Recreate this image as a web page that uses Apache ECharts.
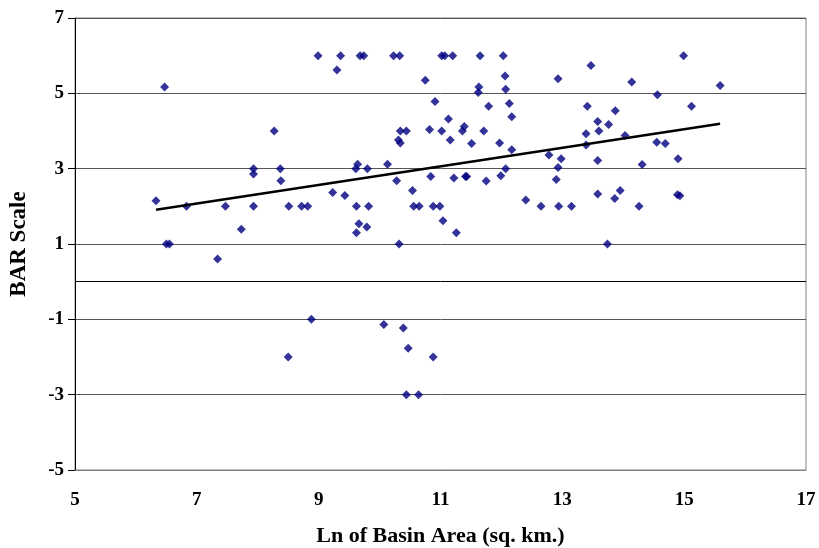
<!DOCTYPE html>
<html>
<head>
<meta charset="utf-8">
<script src="https://cdn.jsdelivr.net/npm/echarts@6/dist/echarts.min.js"></script>
<style>
  html, body { margin: 0; padding: 0; background: #fff; }
  #chart { width: 819px; height: 548px; }
</style>
</head>
<body>
<div id="chart"></div>
<script>
// Ln of basin area (sq. km.)
const lnBasinArea = [
  6.33, 6.47, 6.50, 6.55, 6.83, 7.34, 7.47, 7.73, 7.93, 7.93, 7.93, 8.27, 8.37, 8.38, 8.51, 8.50, 8.72, 8.82, 8.88,
  8.99, 9.36, 9.68, 9.74, 10.23, 10.33, 11.02, 11.07, 11.20, 11.65, 12.03, 14.99,
  9.30, 10.75, 11.63, 11.62, 12.06, 12.07, 12.93, 10.91, 11.79, 12.13, 12.17, 11.13,
  10.34, 10.44, 10.31, 10.34, 10.82, 11.02, 11.16, 11.39, 11.36, 11.51, 11.71, 11.97, 12.17,
  12.78, 12.93, 12.90, 9.61, 9.64, 9.80, 10.13, 10.28, 10.84, 11.22, 11.41, 11.43, 11.75, 11.99, 12.07,
  9.23, 9.43, 10.54, 12.40, 9.62, 9.82, 9.66, 9.62, 9.79, 10.56, 10.65, 10.88, 10.99, 11.04, 11.26, 10.32,
  12.65, 12.94, 10.07, 10.39, 10.47, 10.88, 10.44, 10.64,
  13.15, 13.58, 13.86, 13.95, 14.26, 14.89, 14.93, 13.74,
  13.47, 14.14, 15.59, 14.56, 15.12, 13.41, 13.87, 13.58, 13.76, 13.60, 13.39, 14.03, 13.39, 14.55, 14.69,
  12.98, 13.58, 14.31, 14.90
];
// BAR scale
const barScale = [
  2.15, 5.17, 1.00, 1.00, 2.00, 0.60, 2.00, 1.39, 3.00, 2.86, 2.00, 4.00, 3.00, 2.68, 2.00, -2.00, 2.00, 2.00, -1.00,
  6, 6, 6, 6, 6, 6, 6, 6, 6, 6, 6, 6,
  5.62, 5.35, 5.17, 5.02, 5.46, 5.11, 5.39, 4.78, 4.66, 4.73, 4.38, 4.32,
  4.00, 4.00, 3.76, 3.68, 4.04, 4.00, 3.76, 4.12, 4.00, 3.67, 4.00, 3.68, 3.50,
  3.36, 3.03, 2.71, 3.00, 3.12, 3.00, 3.12, 2.68, 2.79, 2.75, 2.79, 2.79, 2.67, 2.81, 3.00,
  2.37, 2.29, 2.42, 2.17, 2.00, 2.00, 1.54, 1.30, 1.45, 2.00, 2.00, 2.00, 2.00, 1.62, 1.30, 1.00,
  2.00, 2.00, -1.14, -1.23, -1.77, -2.00, -3.00, -3.00,
  2.00, 2.33, 2.21, 2.42, 2.00, 2.31, 2.28, 1.00,
  5.74, 5.30, 5.21, 4.96, 4.66, 4.66, 4.54, 4.25, 4.17, 4.00, 3.93, 3.88, 3.63, 3.70, 3.67,
  3.26, 3.22, 3.11, 3.26
];
const xTicks = [5, 7, 9, 11, 13, 15, 17];
const yTicks = [-5, -3, -1, 1, 3, 5, 7];

const points = lnBasinArea.map((x, i) => [x, barScale[i]]);

// Linear least-squares trend line from the data
const n = points.length;
let sx = 0, sy = 0, sxx = 0, sxy = 0;
points.forEach(([x, y]) => { sx += x; sy += y; sxx += x * x; sxy += x * y; });
const slope = (n * sxy - sx * sy) / (n * sxx - sx * sx);
const intercept = (sy - slope * sx) / n;
const xMin = Math.min(...lnBasinArea), xMax = Math.max(...lnBasinArea);
const trend = [[xMin, intercept + slope * xMin], [xMax, intercept + slope * xMax]];

const FONT = "'Liberation Serif', 'Times New Roman', serif";

const chart = echarts.init(document.getElementById('chart'), null, { renderer: 'canvas' });
chart.setOption({
  animation: false,
  backgroundColor: '#ffffff',
  grid: {
    left: 75, right: 13, top: 18, bottom: 78,
    outerBoundsMode: 'none',
    containLabel: false,
    show: true, borderColor: '#808080', borderWidth: 1, backgroundColor: 'transparent'
  },
  xAxis: {
    type: 'value',
    min: xTicks[0], max: xTicks[xTicks.length - 1], interval: 2,
    name: 'Ln of Basin Area (sq. km.)',
    nameLocation: 'middle', nameGap: 55,
    nameTextStyle: { fontFamily: FONT, fontWeight: 'bold', fontSize: 22, color: '#000' },
    axisLine: { show: true, onZero: false, lineStyle: { color: '#808080', width: 1 } },
    axisTick: { show: false },
    splitLine: { show: false },
    axisLabel: { fontFamily: FONT, fontWeight: 'bold', fontSize: 19, color: '#000', margin: 21 }
  },
  yAxis: {
    type: 'value',
    min: yTicks[0], max: yTicks[yTicks.length - 1], interval: 2,
    name: 'BAR Scale',
    nameLocation: 'middle', nameGap: 44,
    nameTextStyle: { fontFamily: FONT, fontWeight: 'bold', fontSize: 23, color: '#000' },
    axisLine: { show: true, lineStyle: { color: '#000', width: 1 } },
    axisTick: { show: true, inside: false, length: 7, lineStyle: { color: '#000' } },
    splitLine: { show: true, lineStyle: { color: '#555', width: 1 } },
    axisLabel: { fontFamily: FONT, fontWeight: 'bold', fontSize: 19, color: '#000', margin: 11 }
  },
  series: [
    {
      type: 'scatter',
      data: points,
      symbol: 'diamond',
      symbolSize: 9,
      itemStyle: { color: '#000080' },
      markLine: {
        silent: true,
        symbol: ['none', 'none'],
        label: { show: false },
        lineStyle: { color: '#000', width: 1, type: 'solid' },
        data: [{ yAxis: 0 }]
      },
      z: 3
    },
    {
      type: 'line',
      data: trend,
      symbol: 'none',
      lineStyle: { color: '#000', width: 2.5 },
      z: 4
    }
  ]
});
</script>
</body>
</html>
